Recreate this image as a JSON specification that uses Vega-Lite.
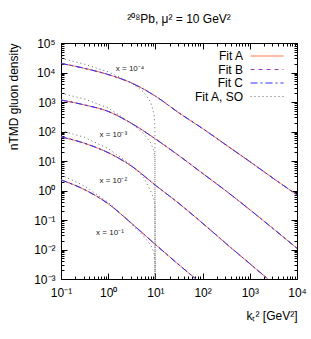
{
  "$schema": "https://vega.github.io/schema/vega-lite/v6.json",
  "width": 236,
  "height": 236,
  "autosize": {"type": "none"},
  "padding": {"left": 61, "top": 43, "right": 14, "bottom": 60},
  "background": "white",
  "title": {"text": "²⁰⁸Pb, μ² = 10 GeV²", "fontSize": 12, "fontWeight": "normal", "font": "Liberation Sans", "offset": 11, "color": "black"},
  "config": {
    "font": "Liberation Sans",
    "view": {"stroke": "black", "strokeWidth": 1},
    "axis": {"grid": false, "domainColor": "black", "tickColor": "black", "labelColor": "black", "titleColor": "black", "labelFontSize": 12, "titleFontSize": 12, "titleFontWeight": "normal", "labelFont": "Liberation Sans", "titleFont": "Liberation Sans"}
  },
  "resolve": {"axis": {"x": "independent", "y": "independent"}},
  "datasets": {
    "fits": [
      {"series": "1e-4", "k": 0.1, "v": 20400}, {"series": "1e-4", "k": 0.316, "v": 13800}, {"series": "1e-4", "k": 1, "v": 8510}, {"series": "1e-4", "k": 3.16, "v": 4370}, {"series": "1e-4", "k": 10, "v": 1580}, {"series": "1e-4", "k": 31.6, "v": 427}, {"series": "1e-4", "k": 100, "v": 126}, {"series": "1e-4", "k": 316, "v": 34.7}, {"series": "1e-4", "k": 1000, "v": 9.55}, {"series": "1e-4", "k": 3160, "v": 2.57}, {"series": "1e-4", "k": 10000, "v": 0.708},
      {"series": "1e-3", "k": 0.1, "v": 1170}, {"series": "1e-3", "k": 0.316, "v": 794}, {"series": "1e-3", "k": 1, "v": 479}, {"series": "1e-3", "k": 3.16, "v": 186}, {"series": "1e-3", "k": 10, "v": 56.2}, {"series": "1e-3", "k": 31.6, "v": 15.1}, {"series": "1e-3", "k": 100, "v": 3.8}, {"series": "1e-3", "k": 316, "v": 0.955}, {"series": "1e-3", "k": 1000, "v": 0.224}, {"series": "1e-3", "k": 3160, "v": 0.0501}, {"series": "1e-3", "k": 10000, "v": 0.011},
      {"series": "1e-2", "k": 0.1, "v": 66.1}, {"series": "1e-2", "k": 0.316, "v": 39.8}, {"series": "1e-2", "k": 1, "v": 19.1}, {"series": "1e-2", "k": 3.16, "v": 6.61}, {"series": "1e-2", "k": 10, "v": 1.51}, {"series": "1e-2", "k": 31.6, "v": 0.363}, {"series": "1e-2", "k": 100, "v": 0.0776}, {"series": "1e-2", "k": 316, "v": 0.0158}, {"series": "1e-2", "k": 1000, "v": 0.00331}, {"series": "1e-2", "k": 3160, "v": 0.000692}, {"series": "1e-2", "k": 10000, "v": 0.000141},
      {"series": "1e-1", "k": 0.1, "v": 2.29}, {"series": "1e-1", "k": 0.316, "v": 1.07}, {"series": "1e-1", "k": 1, "v": 0.355}, {"series": "1e-1", "k": 3.16, "v": 0.0759}, {"series": "1e-1", "k": 10, "v": 0.0148}, {"series": "1e-1", "k": 31.6, "v": 0.00302}, {"series": "1e-1", "k": 100, "v": 0.000646}, {"series": "1e-1", "k": 316, "v": 0.000135}
    ],
    "so": [
      {"series": "1e-4", "k": 0.1, "v": 30200}, {"series": "1e-4", "k": 0.316, "v": 19100}, {"series": "1e-4", "k": 1, "v": 10500}, {"series": "1e-4", "k": 3.16, "v": 4370}, {"series": "1e-4", "k": 5.62, "v": 2190}, {"series": "1e-4", "k": 7.94, "v": 1000}, {"series": "1e-4", "k": 9.33, "v": 398}, {"series": "1e-4", "k": 9.77, "v": 158}, {"series": "1e-4", "k": 10, "v": 1e-10},
      {"series": "1e-3", "k": 0.1, "v": 1995}, {"series": "1e-3", "k": 0.316, "v": 1259}, {"series": "1e-3", "k": 1, "v": 631}, {"series": "1e-3", "k": 3.16, "v": 186}, {"series": "1e-3", "k": 5.62, "v": 85.1}, {"series": "1e-3", "k": 7.94, "v": 41.7}, {"series": "1e-3", "k": 9.33, "v": 22.4}, {"series": "1e-3", "k": 9.77, "v": 12.6}, {"series": "1e-3", "k": 10, "v": 1e-10},
      {"series": "1e-2", "k": 0.1, "v": 107}, {"series": "1e-2", "k": 0.316, "v": 63.1}, {"series": "1e-2", "k": 1, "v": 26.3}, {"series": "1e-2", "k": 3.16, "v": 7.08}, {"series": "1e-2", "k": 5.62, "v": 2.82}, {"series": "1e-2", "k": 7.94, "v": 0.955}, {"series": "1e-2", "k": 9.33, "v": 0.501}, {"series": "1e-2", "k": 9.77, "v": 0.251}, {"series": "1e-2", "k": 10, "v": 1e-10},
      {"series": "1e-1", "k": 0.1, "v": 3.39}, {"series": "1e-1", "k": 0.316, "v": 1.41}, {"series": "1e-1", "k": 1, "v": 0.398}, {"series": "1e-1", "k": 3.16, "v": 0.0708}, {"series": "1e-1", "k": 5.62, "v": 0.0282}, {"series": "1e-1", "k": 7.94, "v": 0.0141}, {"series": "1e-1", "k": 9.33, "v": 0.00794}, {"series": "1e-1", "k": 9.77, "v": 0.00398}, {"series": "1e-1", "k": 10, "v": 1e-10}
    ],
    "labels": [
      {"k": 2.9, "v": 12800, "t": "x = 10⁻⁴"},
      {"k": 1.28, "v": 75.9, "t": "x = 10⁻³"},
      {"k": 1.28, "v": 2.15, "t": "x = 10⁻²"},
      {"k": 1.09, "v": 0.0355, "t": "x = 10⁻¹"}
    ]
  },
  "layer": [
    {
      "data": {"name": "fits"},
      "mark": {"type": "line", "clip": true, "strokeWidth": 1, "interpolate": "monotone"},
      "encoding": {
        "x": {"field": "k", "type": "quantitative", "scale": {"type": "log", "domain": [0.1, 10000], "nice": false},
          "axis": {"orient": "bottom", "values": [0.1,0.2,0.3,0.4,0.5,0.6,0.7,0.8,0.9,1,2,3,4,5,6,7,8,9,10,20,30,40,50,60,70,80,90,100,200,300,400,500,600,700,800,900,1000,2000,3000,4000,5000,6000,7000,8000,9000,10000],
            "labelExpr": "abs(log(datum.value)/LN10 - round(log(datum.value)/LN10)) < 0.001 ? ['10⁻³','10⁻²','10⁻¹','10⁰','10¹','10²','10³','10⁴','10⁵'][round(log(datum.value)/LN10)+3] : ''",
            "labelOverlap": false, "labelFlush": false, "labelPadding": 14,
            "tickSize": {"condition": {"test": "abs(log(datum.value)/LN10 - round(log(datum.value)/LN10)) < 0.001", "value": -6}, "value": -3},
            "title": "kₜ² [GeV²]", "titleX": 236, "titleY": 36, "titleAlign": "right", "titleBaseline": "middle"}},
        "y": {"field": "v", "type": "quantitative", "scale": {"type": "log", "domain": [0.001, 100000], "nice": false},
          "axis": {"orient": "left", "values": [0.001,0.002,0.003,0.004,0.005,0.006,0.007,0.008,0.009,0.01,0.02,0.03,0.04,0.05,0.06,0.07,0.08,0.09,0.1,0.2,0.3,0.4,0.5,0.6,0.7,0.8,0.9,1,2,3,4,5,6,7,8,9,10,20,30,40,50,60,70,80,90,100,200,300,400,500,600,700,800,900,1000,2000,3000,4000,5000,6000,7000,8000,9000,10000,20000,30000,40000,50000,60000,70000,80000,90000,100000],
            "labelExpr": "abs(log(datum.value)/LN10 - round(log(datum.value)/LN10)) < 0.001 ? ['10⁻³','10⁻²','10⁻¹','10⁰','10¹','10²','10³','10⁴','10⁵'][round(log(datum.value)/LN10)+3] : ''",
            "labelOverlap": false, "labelFlush": false, "labelPadding": 12,
            "tickSize": {"condition": {"test": "abs(log(datum.value)/LN10 - round(log(datum.value)/LN10)) < 0.001", "value": -6}, "value": -3},
            "title": "nTMD gluon density", "titleX": -48, "titleY": 0, "titleAlign": "right", "titleAngle": -90, "titleBaseline": "middle"}},
        "detail": {"field": "series"},
        "color": {"datum": "Fit B", "type": "nominal",
          "scale": {"domain": ["Fit A", "Fit B", "Fit C", "Fit A, SO"], "range": ["#ff6633", "#a040c0", "#2f2fff", "#666666"]},
          "legend": {"orient": "none", "legendX": 200, "legendY": 7, "title": null, "symbolType": "M-3.3,0L3.3,0", "symbolSize": 100, "symbolStrokeWidth": 1, "labelAlign": "right", "labelOffset": -30, "labelFontSize": 12, "labelColor": "black", "rowPadding": 1.5}},
        "strokeDash": {"datum": "Fit B", "type": "nominal",
          "scale": {"domain": ["Fit A", "Fit B", "Fit C", "Fit A, SO"], "range": [[1, 0], [4, 4], [7, 3, 2, 3], [1, 3]]},
          "legend": {"orient": "none", "legendX": 200, "legendY": 7, "title": null, "symbolType": "M-3.3,0L3.3,0", "symbolSize": 100, "symbolStrokeWidth": 1, "labelAlign": "right", "labelOffset": -30, "labelFontSize": 12, "labelColor": "black", "rowPadding": 1.5}}
      }
    },
    {
      "data": {"name": "fits"},
      "mark": {"type": "line", "clip": true, "strokeWidth": 1, "interpolate": "monotone"},
      "encoding": {
        "x": {"field": "k", "type": "quantitative", "scale": {"type": "log", "domain": [0.1, 10000], "nice": false}, "axis": null},
        "y": {"field": "v", "type": "quantitative", "scale": {"type": "log", "domain": [0.001, 100000], "nice": false}, "axis": null},
        "detail": {"field": "series"},
        "color": {"datum": "Fit A", "type": "nominal"},
        "strokeDash": {"datum": "Fit A", "type": "nominal"}
      }
    },
    {
      "data": {"name": "fits"},
      "mark": {"type": "line", "clip": true, "strokeWidth": 1, "interpolate": "monotone"},
      "encoding": {
        "x": {"field": "k", "type": "quantitative", "scale": {"type": "log", "domain": [0.1, 10000], "nice": false}, "axis": null},
        "y": {"field": "v", "type": "quantitative", "scale": {"type": "log", "domain": [0.001, 100000], "nice": false}, "axis": null},
        "detail": {"field": "series"},
        "color": {"datum": "Fit C", "type": "nominal"},
        "strokeDash": {"datum": "Fit C", "type": "nominal"}
      }
    },
    {
      "data": {"name": "so"},
      "mark": {"type": "line", "clip": true, "strokeWidth": 1},
      "encoding": {
        "x": {"field": "k", "type": "quantitative", "scale": {"type": "log", "domain": [0.1, 10000], "nice": false},
          "axis": {"orient": "top", "values": [0.1,0.2,0.3,0.4,0.5,0.6,0.7,0.8,0.9,1,2,3,4,5,6,7,8,9,10,20,30,40,50,60,70,80,90,100,200,300,400,500,600,700,800,900,1000,2000,3000,4000,5000,6000,7000,8000,9000,10000],
            "labels": false, "title": null, "domain": false,
            "tickSize": {"condition": {"test": "abs(log(datum.value)/LN10 - round(log(datum.value)/LN10)) < 0.001", "value": -6}, "value": -3}}},
        "y": {"field": "v", "type": "quantitative", "scale": {"type": "log", "domain": [0.001, 100000], "nice": false},
          "axis": {"orient": "right", "values": [0.001,0.002,0.003,0.004,0.005,0.006,0.007,0.008,0.009,0.01,0.02,0.03,0.04,0.05,0.06,0.07,0.08,0.09,0.1,0.2,0.3,0.4,0.5,0.6,0.7,0.8,0.9,1,2,3,4,5,6,7,8,9,10,20,30,40,50,60,70,80,90,100,200,300,400,500,600,700,800,900,1000,2000,3000,4000,5000,6000,7000,8000,9000,10000,20000,30000,40000,50000,60000,70000,80000,90000,100000],
            "labels": false, "title": null, "domain": false,
            "tickSize": {"condition": {"test": "abs(log(datum.value)/LN10 - round(log(datum.value)/LN10)) < 0.001", "value": -6}, "value": -3}}},
        "detail": {"field": "series"},
        "color": {"datum": "Fit A, SO", "type": "nominal"},
        "strokeDash": {"datum": "Fit A, SO", "type": "nominal"}
      }
    },
    {
      "data": {"name": "labels"},
      "mark": {"type": "text", "fontSize": 8, "font": "Liberation Sans", "color": "#222222", "align": "center", "baseline": "middle"},
      "encoding": {
        "x": {"field": "k", "type": "quantitative", "scale": {"type": "log", "domain": [0.1, 10000], "nice": false}, "axis": null},
        "y": {"field": "v", "type": "quantitative", "scale": {"type": "log", "domain": [0.001, 100000], "nice": false}, "axis": null},
        "text": {"field": "t"}
      }
    }
  ]
}
